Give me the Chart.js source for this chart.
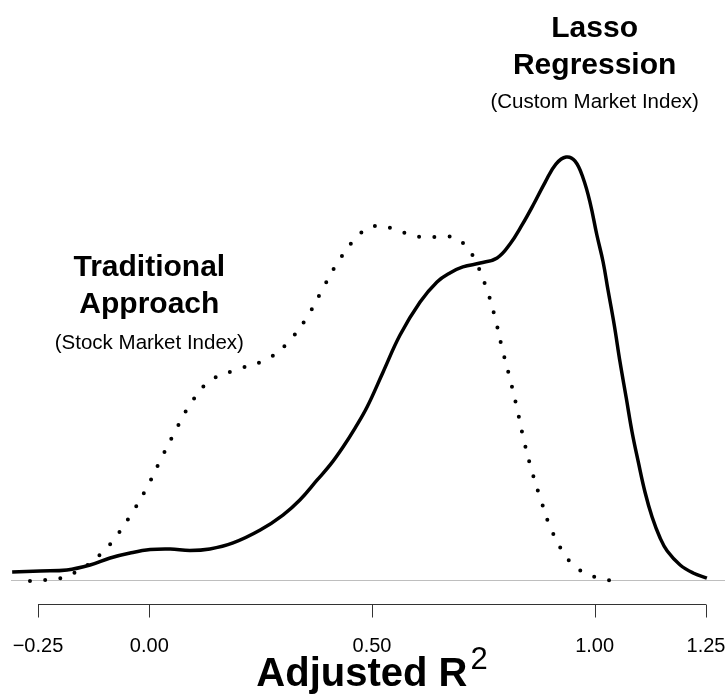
<!DOCTYPE html>
<html lang="en">
<head>
  <meta charset="UTF-8" />
  <title>Adjusted R2 densities</title>
  <script src="https://cdn.jsdelivr.net/npm/chart.js"></script>
  <style>
    html, body { margin: 0; padding: 0; background: #fff; }
    #wrap { width: 725px; height: 698px; }
  </style>
</head>
<body>
  <div id="wrap"><canvas id="densityChart" width="725" height="698"></canvas></div>

  <script>
    // Lasso regression (custom market index) - solid curve
    const lassoX = [-0.308, -0.245, -0.185, -0.133, -0.088, -0.043, 0.002, 0.047, 0.091, 0.136, 0.188,
                    0.249, 0.300, 0.338, 0.377, 0.406, 0.435, 0.462, 0.489, 0.525, 0.563, 0.608, 0.646,
                    0.675, 0.704, 0.743, 0.781, 0.810, 0.837, 0.862, 0.889, 0.913, 0.936, 0.956, 0.974,
                    0.990, 1.005, 1.019, 1.030, 1.044, 1.057, 1.071, 1.084, 1.098, 1.113, 1.129, 1.147,
                    1.163, 1.192, 1.221, 1.252];
    const lassoY = [0.053, 0.060, 0.067, 0.100, 0.147, 0.180, 0.203, 0.207, 0.197, 0.207, 0.247,
                    0.333, 0.433, 0.533, 0.667, 0.767, 0.887, 1.013, 1.153, 1.387, 1.633, 1.853, 1.987,
                    2.047, 2.087, 2.113, 2.147, 2.240, 2.367, 2.500, 2.653, 2.773, 2.820, 2.793, 2.680,
                    2.513, 2.300, 2.120, 1.933, 1.700, 1.453, 1.213, 0.987, 0.787, 0.587, 0.420, 0.280,
                    0.193, 0.100, 0.047, 0.013];

    // Traditional approach (stock market index) - dotted curve
    const tradX = [-0.268, -0.232, -0.198, -0.165, -0.135, -0.109, -0.084, -0.043, -0.007, 0.024, 0.056,
                   0.091, 0.136, 0.201, 0.269, 0.320, 0.361, 0.395, 0.431, 0.475, 0.507, 0.541, 0.574,
                   0.608, 0.644, 0.680, 0.709, 0.729, 0.756, 0.776, 0.792, 0.810, 0.826, 0.841, 0.859,
                   0.880, 0.904, 0.938, 0.963, 0.994, 1.028, 1.064];
    const tradY = [-0.007, 0.000, 0.013, 0.053, 0.107, 0.173, 0.253, 0.427, 0.607, 0.793, 0.980,
                   1.167, 1.327, 1.407, 1.480, 1.613, 1.787, 1.973, 2.153, 2.313, 2.360, 2.347, 2.313,
                   2.287, 2.287, 2.287, 2.233, 2.147, 1.953, 1.753, 1.547, 1.340, 1.140, 0.933, 0.727,
                   0.527, 0.327, 0.147, 0.073, 0.027, 0.000, -0.007];

    const tickValues = [-0.25, 0, 0.5, 1, 1.25];
    const tickLabels = ['\u22120.25', '0.00', '0.50', '1.00', '1.25'];

    const labelLasso = ['Lasso', 'Regression', '(Custom Market Index)'];
    const labelTrad = ['Traditional', 'Approach', '(Stock Market Index)'];

    const FONT = "'Liberation Sans', Arial, sans-serif";

    const toPoints = (xs, ys) => xs.map((x, i) => ({ x, y: ys[i] }));

    // zero line, bottom axis, annotations and the axis title
    const decorations = {
      id: 'decorations',
      beforeDatasetsDraw(chart) {
        const { ctx, chartArea, scales } = chart;
        const y0 = Math.round(scales.y.getPixelForValue(0)) + 0.5;
        ctx.save();
        ctx.strokeStyle = '#bebebe';
        ctx.lineWidth = 1;
        ctx.beginPath();
        ctx.moveTo(chartArea.left, y0);
        ctx.lineTo(chartArea.right, y0);
        ctx.stroke();
        ctx.restore();
      },
      afterDraw(chart) {
        const { ctx, scales } = chart;
        const x = scales.x;
        ctx.save();

        // axis line + ticks, only across the tick range
        const ya = 604.5;
        ctx.strokeStyle = '#333';
        ctx.lineWidth = 1;
        ctx.beginPath();
        ctx.moveTo(x.getPixelForValue(tickValues[0]), ya);
        ctx.lineTo(x.getPixelForValue(tickValues[tickValues.length - 1]), ya);
        tickValues.forEach(v => {
          const px = Math.round(x.getPixelForValue(v)) + 0.5;
          ctx.moveTo(px, ya);
          ctx.lineTo(px, ya + 13);
        });
        ctx.stroke();

        ctx.fillStyle = '#000';
        ctx.textAlign = 'center';
        ctx.textBaseline = 'alphabetic';
        ctx.font = '20px ' + FONT;
        tickValues.forEach((v, i) => ctx.fillText(tickLabels[i], x.getPixelForValue(v), 652));

        // annotations
        const drawLabel = (lines, xv, base, subOffset) => {
          const cx = x.getPixelForValue(xv);
          ctx.font = 'bold 30px ' + FONT;
          ctx.fillText(lines[0], cx, base);
          ctx.fillText(lines[1], cx, base + 37);
          ctx.font = '20.5px ' + FONT;
          ctx.fillText(lines[2], cx, base + subOffset);
        };
        drawLabel(labelLasso, 1.0, 37, 71);
        drawLabel(labelTrad, 0.0, 276, 73);

        // axis title: Adjusted R^2
        ctx.textAlign = 'left';
        ctx.font = 'bold 40px ' + FONT;
        const main = 'Adjusted R';
        const wMain = ctx.measureText(main).width;
        ctx.font = '31px ' + FONT;
        const wSup = ctx.measureText('2').width;
        const cx = x.getPixelForValue(0.5);
        const start = cx - (wMain + 3 + wSup) / 2;
        ctx.font = 'bold 40px ' + FONT;
        ctx.fillText(main, start, 686);
        ctx.font = '31px ' + FONT;
        ctx.fillText('2', start + wMain + 3, 669);

        ctx.restore();
      }
    };

    new Chart(document.getElementById('densityChart'), {
      type: 'line',
      data: {
        datasets: [
          {
            label: 'Lasso Regression',
            data: toPoints(lassoX, lassoY),
            borderColor: '#000',
            borderWidth: 3.5,
            pointRadius: 0,
            tension: 0.4,
            fill: false
          },
          {
            label: 'Traditional Approach',
            data: toPoints(tradX, tradY),
            borderColor: '#000',
            borderWidth: 4,
            borderDash: [0, 15.3],
            borderCapStyle: 'round',
            pointRadius: 0,
            tension: 0.4,
            fill: false
          }
        ]
      },
      options: {
        responsive: false,
        animation: false,
        layout: { padding: { left: 11, right: 0, top: 130, bottom: 94 } },
        plugins: {
          legend: { display: false },
          tooltip: { enabled: false }
        },
        scales: {
          x: {
            type: 'linear',
            display: false,
            min: -0.3106,
            max: 1.2927
          },
          y: {
            display: false,
            min: -0.16,
            max: 3.0
          }
        }
      },
      plugins: [decorations]
    });
  </script>
</body>
</html>
